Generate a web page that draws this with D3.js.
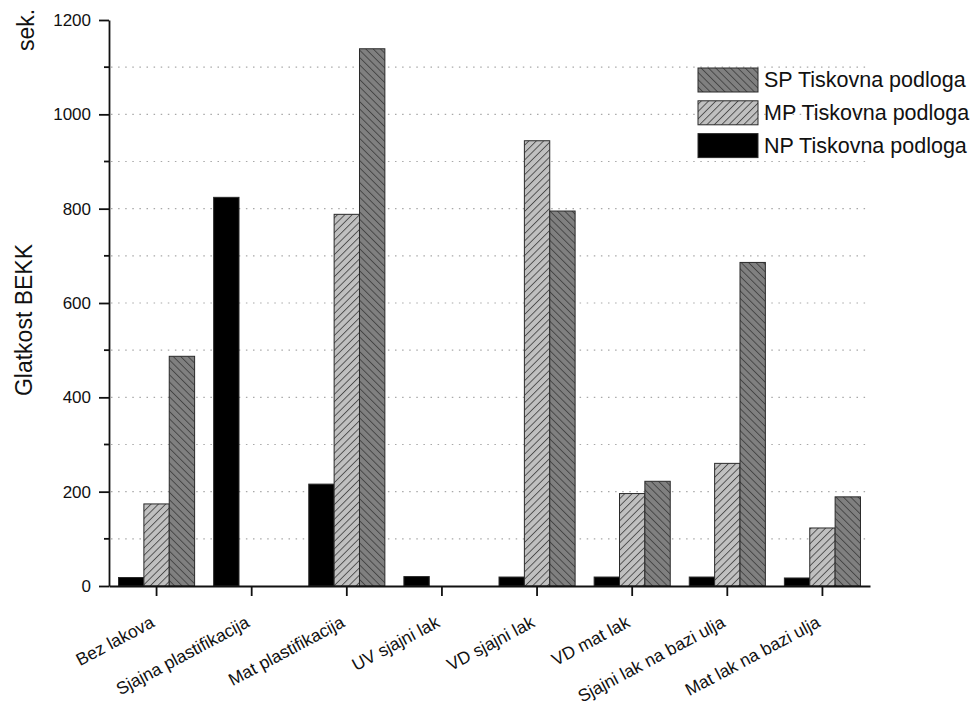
<!DOCTYPE html>
<html>
<head>
<meta charset="utf-8">
<script src="https://d3js.org/d3.v7.min.js"></script>
<style>
  html, body { margin: 0; padding: 0; background: #fff; }
  svg { display: block; font-family: "Liberation Sans", Arial, sans-serif; }
</style>
</head>
<body>
<svg id="chart" width="976" height="708"></svg>
<script>
const categories = ["Bez lakova", "Sjajna plastifikacija", "Mat plastifikacija", "UV sjajni lak",
  "VD sjajni lak", "VD mat lak", "Sjajni lak na bazi ulja", "Mat lak na bazi ulja"];
const seriesNames = ["NP Tiskovna podloga", "MP Tiskovna podloga", "SP Tiskovna podloga"];
const npValues = [18, 824, 216, 20, 19, 19, 19, 17];
const mpValues = [174, null, 788, null, 944, 196, 260, 123];
const spValues = [487, null, 1139, null, 795, 222, 686, 189];
const yMajorTicks = [0, 200, 400, 600, 800, 1000, 1200];
const yMinorTicks = [100, 300, 500, 700, 900, 1100];
const gridValues = [100, 200, 300, 400, 500, 600, 700, 800, 900, 1000, 1100];
const yLabel = "Glatkost BEKK";
const yUnit = "sek.";

(function () {
const seriesValues = [npValues, mpValues, spValues];
const legendOrder = [2, 1, 0];

const svg = d3.select("#chart");
const pLeft = 109, pRight = 870, pTop = 20, pBottom = 586;

const x = d3.scaleBand().domain(categories).range([pLeft, pRight]).paddingInner(0).paddingOuter(0);
const groupW = x.bandwidth() * 0.8;
const xs = d3.scaleBand().domain(d3.range(3)).range([0, groupW]).padding(0);
const y = d3.scaleLinear().domain([0, 1200]).range([pBottom, pTop]);

// patterns
const defs = svg.append("defs");
function hatch(id, fill, angle) {
  const p = defs.append("pattern").attr("id", id).attr("patternUnits", "userSpaceOnUse")
    .attr("width", 5.2).attr("height", 5.2).attr("patternTransform", `rotate(${angle})`);
  p.append("rect").attr("width", 5.2).attr("height", 5.2).attr("fill", fill);
  p.append("line").attr("x1", 0.5).attr("y1", 0).attr("x2", 0.5).attr("y2", 5.2)
    .attr("stroke", "#3a3a3a").attr("stroke-width", 0.8);
}
hatch("hatchMP", "#c0c0c0", 45);
hatch("hatchSP", "#808080", -45);
const fills = ["#000", "url(#hatchMP)", "url(#hatchSP)"];

// grid
svg.append("g").selectAll("line").data(gridValues).join("line")
  .attr("x1", pLeft + 2).attr("x2", pRight - 2)
  .attr("y1", d => y(d)).attr("y2", d => y(d))
  .attr("stroke", "#a8a8a8").attr("stroke-width", 1.2)
  .attr("stroke-dasharray", "1.5,5.6");

// bars
const bars = [];
categories.forEach((c, i) => {
  seriesValues.forEach((vals, s) => {
    if (vals[i] != null) bars.push({ c, s, v: vals[i] });
  });
});
svg.append("g").selectAll("rect").data(bars).join("rect")
  .attr("x", d => x(d.c) + (x.bandwidth() - groupW) / 2 + xs(d.s))
  .attr("width", xs.bandwidth())
  .attr("y", d => y(d.v))
  .attr("height", d => y(0) - y(d.v))
  .attr("fill", d => fills[d.s])
  .attr("stroke", "#2a2a2a").attr("stroke-width", 1);

// y axis
const yAxis = svg.append("g").attr("transform", `translate(${pLeft},0)`)
  .call(d3.axisLeft(y).tickValues(yMajorTicks).tickSize(10).tickSizeOuter(0).tickPadding(8).tickFormat(d3.format("d")));
yAxis.selectAll("text").attr("font-size", 17).attr("fill", "#111").attr("font-family", "Liberation Sans, Arial, sans-serif");
yAxis.select(".domain").attr("stroke-width", 1.8).attr("stroke", "#111");
yAxis.selectAll(".tick line").attr("stroke-width", 1.8).attr("stroke", "#111");
yAxis.selectAll(".minor").data(yMinorTicks).join("line").attr("class", "minor")
  .attr("x1", -5).attr("x2", 0).attr("y1", d => y(d)).attr("y2", d => y(d))
  .attr("stroke", "#111").attr("stroke-width", 1.8);

// x axis
const xAxis = svg.append("g").attr("transform", `translate(0,${pBottom})`)
  .call(d3.axisBottom(x).tickSize(10).tickSizeOuter(0).tickFormat(""));
xAxis.select(".domain").attr("stroke-width", 1.8).attr("stroke", "#111");
xAxis.selectAll(".tick line").attr("stroke-width", 1.8).attr("stroke", "#111");
svg.append("g").selectAll("text").data(categories).join("text")
  .attr("transform", d => `translate(${x(d) + x.bandwidth() / 2 - 1},${pBottom + 40}) rotate(-28)`)
  .attr("text-anchor", "end")
  .attr("font-size", 17.5).attr("fill", "#111")
  .text(d => d);

// axis labels
svg.append("text").attr("transform", `translate(32,320) rotate(-90)`)
  .attr("text-anchor", "middle").attr("font-size", 23).attr("fill", "#111").text(yLabel);
svg.append("text").attr("transform", `translate(34,30) rotate(-90)`)
  .attr("text-anchor", "middle").attr("font-size", 23).attr("fill", "#111").text(yUnit);

// legend
const lg = svg.append("g");
legendOrder.forEach((s, k) => {
  const ty = 68 + k * 32.8;
  lg.append("rect").attr("x", 698).attr("y", ty).attr("width", 60).attr("height", 24)
    .attr("fill", fills[s]).attr("stroke", "#2a2a2a").attr("stroke-width", 1);
  lg.append("text").attr("x", 764).attr("y", ty + 19).attr("font-size", 21.5).attr("fill", "#111")
    .text(seriesNames[s]);
});
})();
</script>
</body>
</html>
